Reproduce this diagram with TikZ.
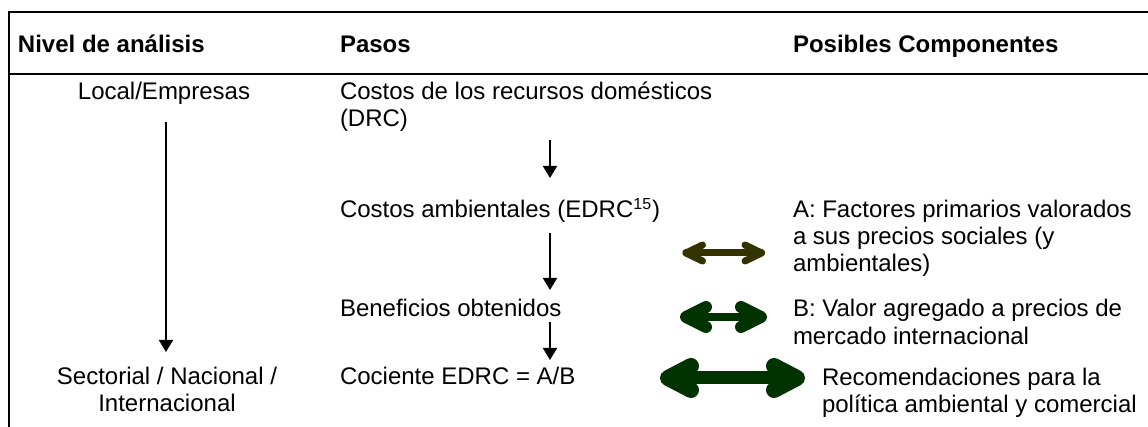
\documentclass[tikz,border=0pt]{standalone}
\usepackage{fontspec}
\setmainfont{Liberation Sans}
\usetikzlibrary{arrows.meta}
\definecolor{olivearrow}{RGB}{51,51,0}
\definecolor{greenarrow}{RGB}{0,51,0}
\begin{document}
\begin{tikzpicture}[x=0.5pt,y=-0.5pt,
  every node/.style={inner sep=0pt,outer sep=0pt,font=\fontsize{12}{13.8}\selectfont},
  txt/.style={anchor=base west},
  txtc/.style={anchor=base},
  hdr/.style={anchor=base west,font=\fontsize{12}{13.8}\selectfont\bfseries},
  rule/.style={line width=1.1pt},
  downarrow/.style={line width=0.9pt,-{Triangle[length=6pt,width=7pt]}},
  dblA/.style={draw=olivearrow,line width=3.5pt,line cap=round,line join=round},
  dblB/.style={draw=greenarrow,line cap=round,line join=round}]
\useasboundingbox (0,0) rectangle (1148,427);
% frame
\draw[rule] (1148,12) -- (9,12) -- (9,427);
\draw[rule] (9,74) -- (1148,74);
% header
\node[hdr] (h1) at (18,53) {Nivel de análisis};
\node[hdr] (h2) at (340,53) {Pasos};
\node[hdr] (h3) at (793,53) {Posibles Componentes};
% left column
\node[txtc] (local) at (164,100) {Local/Empresas};
\node[txtc] (sect1) at (167,385) {Sectorial / Nacional /};
\node[txtc] (sect2) at (167,412) {Internacional};
% middle column
\node[txt] (p1a) at (340,100) {Costos de los recursos domésticos};
\node[txt] (p1b) at (340,127) {(DRC)};
\node[txt] (p2) at (340,218) {Costos ambientales (EDRC\textsuperscript{15})};
\node[txt] (p3) at (340,317) {Beneficios obtenidos};
\node[txt] (p4) at (340,385) {Cociente EDRC = A/B};
% right column
\node[txt] (ca1) at (793,218) {A: Factores primarios valorados};
\node[txt] (ca2) at (793,245) {a sus precios sociales (y};
\node[txt] (ca3) at (793,272) {ambientales)};
\node[txt] (cb1) at (793,317) {B: Valor agregado a precios de};
\node[txt] (cb2) at (793,345) {mercado internacional};
\node[txt] (cr1) at (822,386) {Recomendaciones para la};
\node[txt] (cr2) at (822,413) {política ambiental y comercial};
% vertical arrows
\coordinate (ls) at (166,122);
\coordinate (le) at (166,352);
\draw[downarrow] (ls) -- (le);
\coordinate (m1s) at (550,140);
\coordinate (m1e) at (550,178);
\coordinate (m2s) at (550,233);
\coordinate (m2e) at (550,290);
\coordinate (m3s) at (550,322);
\coordinate (m3e) at (550,360);
\draw[downarrow] (m1s) -- (m1e);
\draw[downarrow] (m2s) -- (m2e);
\draw[downarrow] (m3s) -- (m3e);
% double arrows
\coordinate (d1l) at (686,253);
\coordinate (d1r) at (761.5,253);
\draw[dblA] (d1l) -- (d1r);
\draw[dblA] (d1l) ++(16.5,-8) -- (d1l) -- ++(16.5,8);
\draw[dblA] (d1r) ++(-16.5,-8) -- (d1r) -- ++(-16.5,8);
\coordinate (d2l) at (686,317);
\coordinate (d2r) at (761,317);
\draw[dblB,line width=4pt] (d2l) -- (d2r);
\draw[dblB,line width=6pt] (d2l) ++(20,-10) -- (d2l) -- ++(20,10);
\draw[dblB,line width=6pt] (d2r) ++(-20,-10) -- (d2r) -- ++(-20,10);
\coordinate (d3l) at (668,378);
\coordinate (d3r) at (797,378);
\draw[dblB,line width=6.5pt] (d3l) -- (d3r);
\draw[dblB,line width=8pt] (d3l) ++(23,-12) -- (d3l) -- ++(23,12);
\draw[dblB,line width=8pt] (d3r) ++(-23,-12) -- (d3r) -- ++(-23,12);
\end{tikzpicture}
\end{document}
